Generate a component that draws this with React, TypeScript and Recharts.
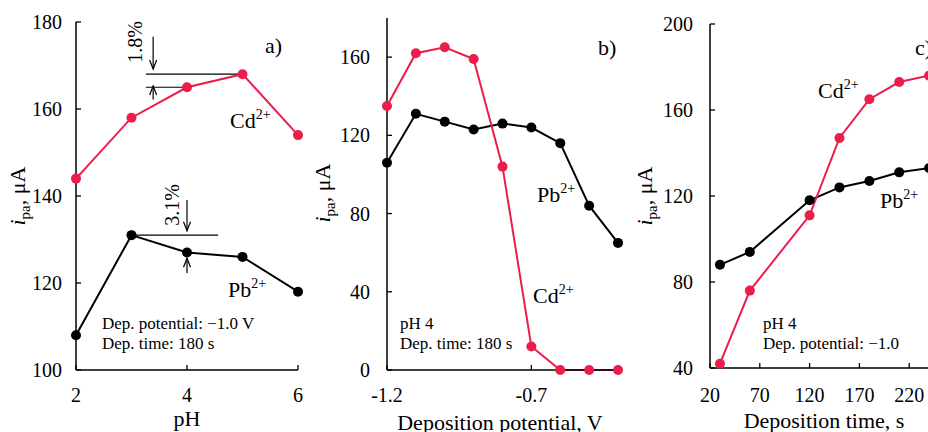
import React from 'react';
import { LineChart, Line, XAxis, YAxis, ReferenceLine } from 'recharts';

const FONT = '"Liberation Serif", "Times New Roman", serif';
const RED = '#EC1C4B';
const BLACK = '#000000';

// a) effect of pH
const phValues = [2, 3, 4, 5, 6];
const phCd = [144, 158, 165, 168, 154];
const phPb = [108, 131, 127, 126, 118];
const phTicks = [2, 4, 6];
const phYTicks = [100, 120, 140, 160, 180];

// b) effect of deposition potential
const potValues = [-1.2, -1.1, -1.0, -0.9, -0.8, -0.7, -0.6, -0.5, -0.4];
const potCd = [135, 162, 165, 159, 104, 12, 0, 0, 0];
const potPb = [106, 131, 127, 123, 126, 124, 116, 84, 65];
const potTicks = [-1.2, -0.7];
const potYTicks = [0, 40, 80, 120, 160];

// c) effect of deposition time
const timeValues = [30, 60, 120, 150, 180, 210, 240];
const timeCd = [42, 76, 111, 147, 165, 173, 176];
const timePb = [88, 94, 118, 124, 127, 131, 133];
const timeTicks = [20, 70, 120, 170, 220, 270];
const timeYTicks = [40, 80, 120, 160, 200];

const toRows = (xs: number[], cd: number[], pb: number[]) =>
  xs.map((x, i) => ({ x, cd: cd[i], pb: pb[i] }));

const phData = toRows(phValues, phCd, phPb);
const potData = toRows(potValues, potCd, potPb);
const timeData = toRows(timeValues, timeCd, timePb);

// ticks point inward, labels outside
const makeYTick = (margin: number) => (props: any) => {
  const { x, y, payload } = props;
  return (
    <g>
      <line x1={x + margin} x2={x + margin + 5} y1={y} y2={y} stroke={BLACK} strokeWidth={1.3} />
      <text x={x} y={y} dy="0.35em" textAnchor="end" fontSize={20} style={{ fontFamily: FONT }} fill={BLACK}>
        {payload.value}
      </text>
    </g>
  );
};

const makeXTick = (margin: number, fmt: (v: number) => string) => (props: any) => {
  const { x, y, payload } = props;
  return (
    <g>
      <line x1={x} x2={x} y1={y - margin} y2={y - margin - 5} stroke={BLACK} strokeWidth={1.3} />
      <text x={x} y={y} dy="0.35em" textAnchor="middle" fontSize={20} style={{ fontFamily: FONT }} fill={BLACK}>
        {fmt(payload.value)}
      </text>
    </g>
  );
};

const arrowShape = (props: any) => {
  const { x1, y1, x2, y2 } = props;
  const dir = y2 > y1 ? 1 : -1;
  return (
    <g>
      <line x1={x1} y1={y1} x2={x2} y2={y2} stroke={BLACK} strokeWidth={1.2} />
      <polyline
        points={`${x2 - 3.5},${y2 - dir * 9} ${x2},${y2} ${x2 + 3.5},${y2 - dir * 9}`}
        fill="none"
        stroke={BLACK}
        strokeWidth={1.2}
      />
    </g>
  );
};

const series = (key: string, color: string) => (
  <Line
    type="linear"
    dataKey={key}
    stroke={color}
    strokeWidth={2}
    dot={{ r: 5, fill: color, stroke: color, strokeWidth: 0 }}
    isAnimationActive={false}
  />
);

const axisLine = { stroke: BLACK, strokeWidth: 1.5 };

const Ion = ({ x, y, name }: { x: number; y: number; name: string }) => (
  <text x={x} y={y} fontSize={22} fill={BLACK}>
    {name}
    <tspan fontSize={14} dy={-9}>2+</tspan>
  </text>
);

const YTitle = ({ x, y }: { x: number; y: number }) => (
  <text x={x} y={y} transform={`rotate(-90 ${x} ${y})`} textAnchor="middle" fontSize={22} fill={BLACK}>
    <tspan fontStyle="italic">i</tspan>
    <tspan fontSize={15} dy={5}>pa</tspan>
    <tspan dy={-5}>, μA</tspan>
  </text>
);

const Note = ({ x, y, lines }: { x: number; y: number; lines: string[] }) => (
  <text x={x} y={y} fontSize={17} fill={BLACK}>
    {lines.map((l, i) => (
      <tspan key={i} x={x} dy={i === 0 ? 0 : 20}>{l}</tspan>
    ))}
  </text>
);

export default function App() {
  return (
    <div style={{ position: 'absolute', left: 0, top: 0, width: 928, height: 432, overflow: 'hidden', background: '#fff', fontFamily: FONT }}>
      {/* a) */}
      <div style={{ position: 'absolute', left: 0, top: 0 }}>
        <LineChart width={310} height={432} data={phData} margin={{ top: 22, right: 12, left: 0, bottom: 0 }}>
          <XAxis
            type="number"
            dataKey="x"
            domain={[2, 6]}
            ticks={phTicks}
            interval={0}
            height={62}
            tickSize={0}
            tickMargin={25}
            axisLine={axisLine}
            tickLine={false}
            tick={makeXTick(25, (v) => String(v))}
          />
          <YAxis
            type="number"
            domain={[100, 180]}
            ticks={phYTicks}
            interval={0}
            width={76}
            tickSize={0}
            tickMargin={14}
            axisLine={axisLine}
            tickLine={false}
            tick={makeYTick(14)}
          />
          <ReferenceLine segment={[{ x: 3.26, y: 168 }, { x: 5, y: 168 }]} stroke={BLACK} strokeWidth={1.2} ifOverflow="visible" />
          <ReferenceLine segment={[{ x: 3.26, y: 165 }, { x: 4, y: 165 }]} stroke={BLACK} strokeWidth={1.2} ifOverflow="visible" />
          <ReferenceLine segment={[{ x: 3.39, y: 176.6 }, { x: 3.39, y: 169.2 }]} shape={arrowShape} ifOverflow="visible" />
          <ReferenceLine segment={[{ x: 3.39, y: 162.2 }, { x: 3.39, y: 165.3 }]} shape={arrowShape} ifOverflow="visible" />
          <ReferenceLine segment={[{ x: 3, y: 131 }, { x: 4.56, y: 131 }]} stroke={BLACK} strokeWidth={1.2} ifOverflow="visible" />
          <ReferenceLine segment={[{ x: 4, y: 139.1 }, { x: 4, y: 132 }]} shape={arrowShape} ifOverflow="visible" />
          <ReferenceLine segment={[{ x: 4, y: 122.3 }, { x: 4, y: 125.7 }]} shape={arrowShape} ifOverflow="visible" />
          {series('pb', BLACK)}
          {series('cd', RED)}
        </LineChart>
      </div>

      {/* b) */}
      <div style={{ position: 'absolute', left: 310, top: 0 }}>
        <LineChart width={320} height={432} data={potData} margin={{ top: 18, right: 12, left: 0, bottom: 0 }}>
          <XAxis
            type="number"
            dataKey="x"
            domain={[-1.2, -0.4]}
            ticks={potTicks}
            interval={0}
            height={62}
            tickSize={0}
            tickMargin={25}
            axisLine={axisLine}
            tickLine={false}
            tick={makeXTick(25, (v) => v.toFixed(1))}
          />
          <YAxis
            type="number"
            domain={[0, 180]}
            ticks={potYTicks}
            interval={0}
            width={77}
            tickSize={0}
            tickMargin={17}
            axisLine={axisLine}
            tickLine={false}
            tick={makeYTick(17)}
          />
          {series('pb', BLACK)}
          {series('cd', RED)}
        </LineChart>
      </div>

      {/* c) */}
      <div style={{ position: 'absolute', left: 630, top: 0 }}>
        <LineChart width={340} height={432} data={timeData} margin={{ top: 24, right: 11, left: 0, bottom: 0 }}>
          <XAxis
            type="number"
            dataKey="x"
            domain={[20, 270]}
            ticks={timeTicks}
            interval={0}
            height={64}
            tickSize={0}
            tickMargin={27}
            axisLine={axisLine}
            tickLine={false}
            tick={makeXTick(27, (v) => String(v))}
          />
          <YAxis
            type="number"
            domain={[40, 200]}
            ticks={timeYTicks}
            interval={0}
            width={80}
            tickSize={0}
            tickMargin={17}
            axisLine={axisLine}
            tickLine={false}
            tick={makeYTick(17)}
          />
          {series('pb', BLACK)}
          {series('cd', RED)}
        </LineChart>
      </div>

      {/* texts */}
      <svg width={928} height={432} style={{ position: 'absolute', left: 0, top: 0, pointerEvents: 'none', fontFamily: FONT }}>
        <YTitle x={25} y={196} />
        <YTitle x={330} y={193} />
        <YTitle x={652} y={196} />

        <text x={187} y={426} textAnchor="middle" fontSize={22}>pH</text>
        <text x={500} y={430} textAnchor="middle" fontSize={22}>Deposition potential, V</text>
        <text x={824} y={428} textAnchor="middle" fontSize={22}>Deposition time, s</text>

        <text x={265} y={53} fontSize={22}>a)</text>
        <text x={598} y={55} fontSize={22}>b)</text>
        <text x={915} y={55} fontSize={22}>c)</text>

        <Ion x={230} y={128} name="Cd" />
        <Ion x={228} y={297} name="Pb" />
        <Ion x={537} y={202} name="Pb" />
        <Ion x={533} y={303} name="Cd" />
        <Ion x={818} y={98} name="Cd" />
        <Ion x={880} y={208} name="Pb" />

        <text x={142} y={42} transform="rotate(-90 142 42)" textAnchor="middle" fontSize={20}>1.8%</text>
        <text x={179} y={205} transform="rotate(-90 179 205)" textAnchor="middle" fontSize={20}>3.1%</text>

        <Note x={102} y={329} lines={['Dep. potential: \u22121.0 V', 'Dep. time: 180 s']} />
        <Note x={400} y={329} lines={['pH 4', 'Dep. time: 180 s']} />
        <Note x={763} y={329} lines={['pH 4', 'Dep. potential: \u22121.0']} />
      </svg>
    </div>
  );
}
